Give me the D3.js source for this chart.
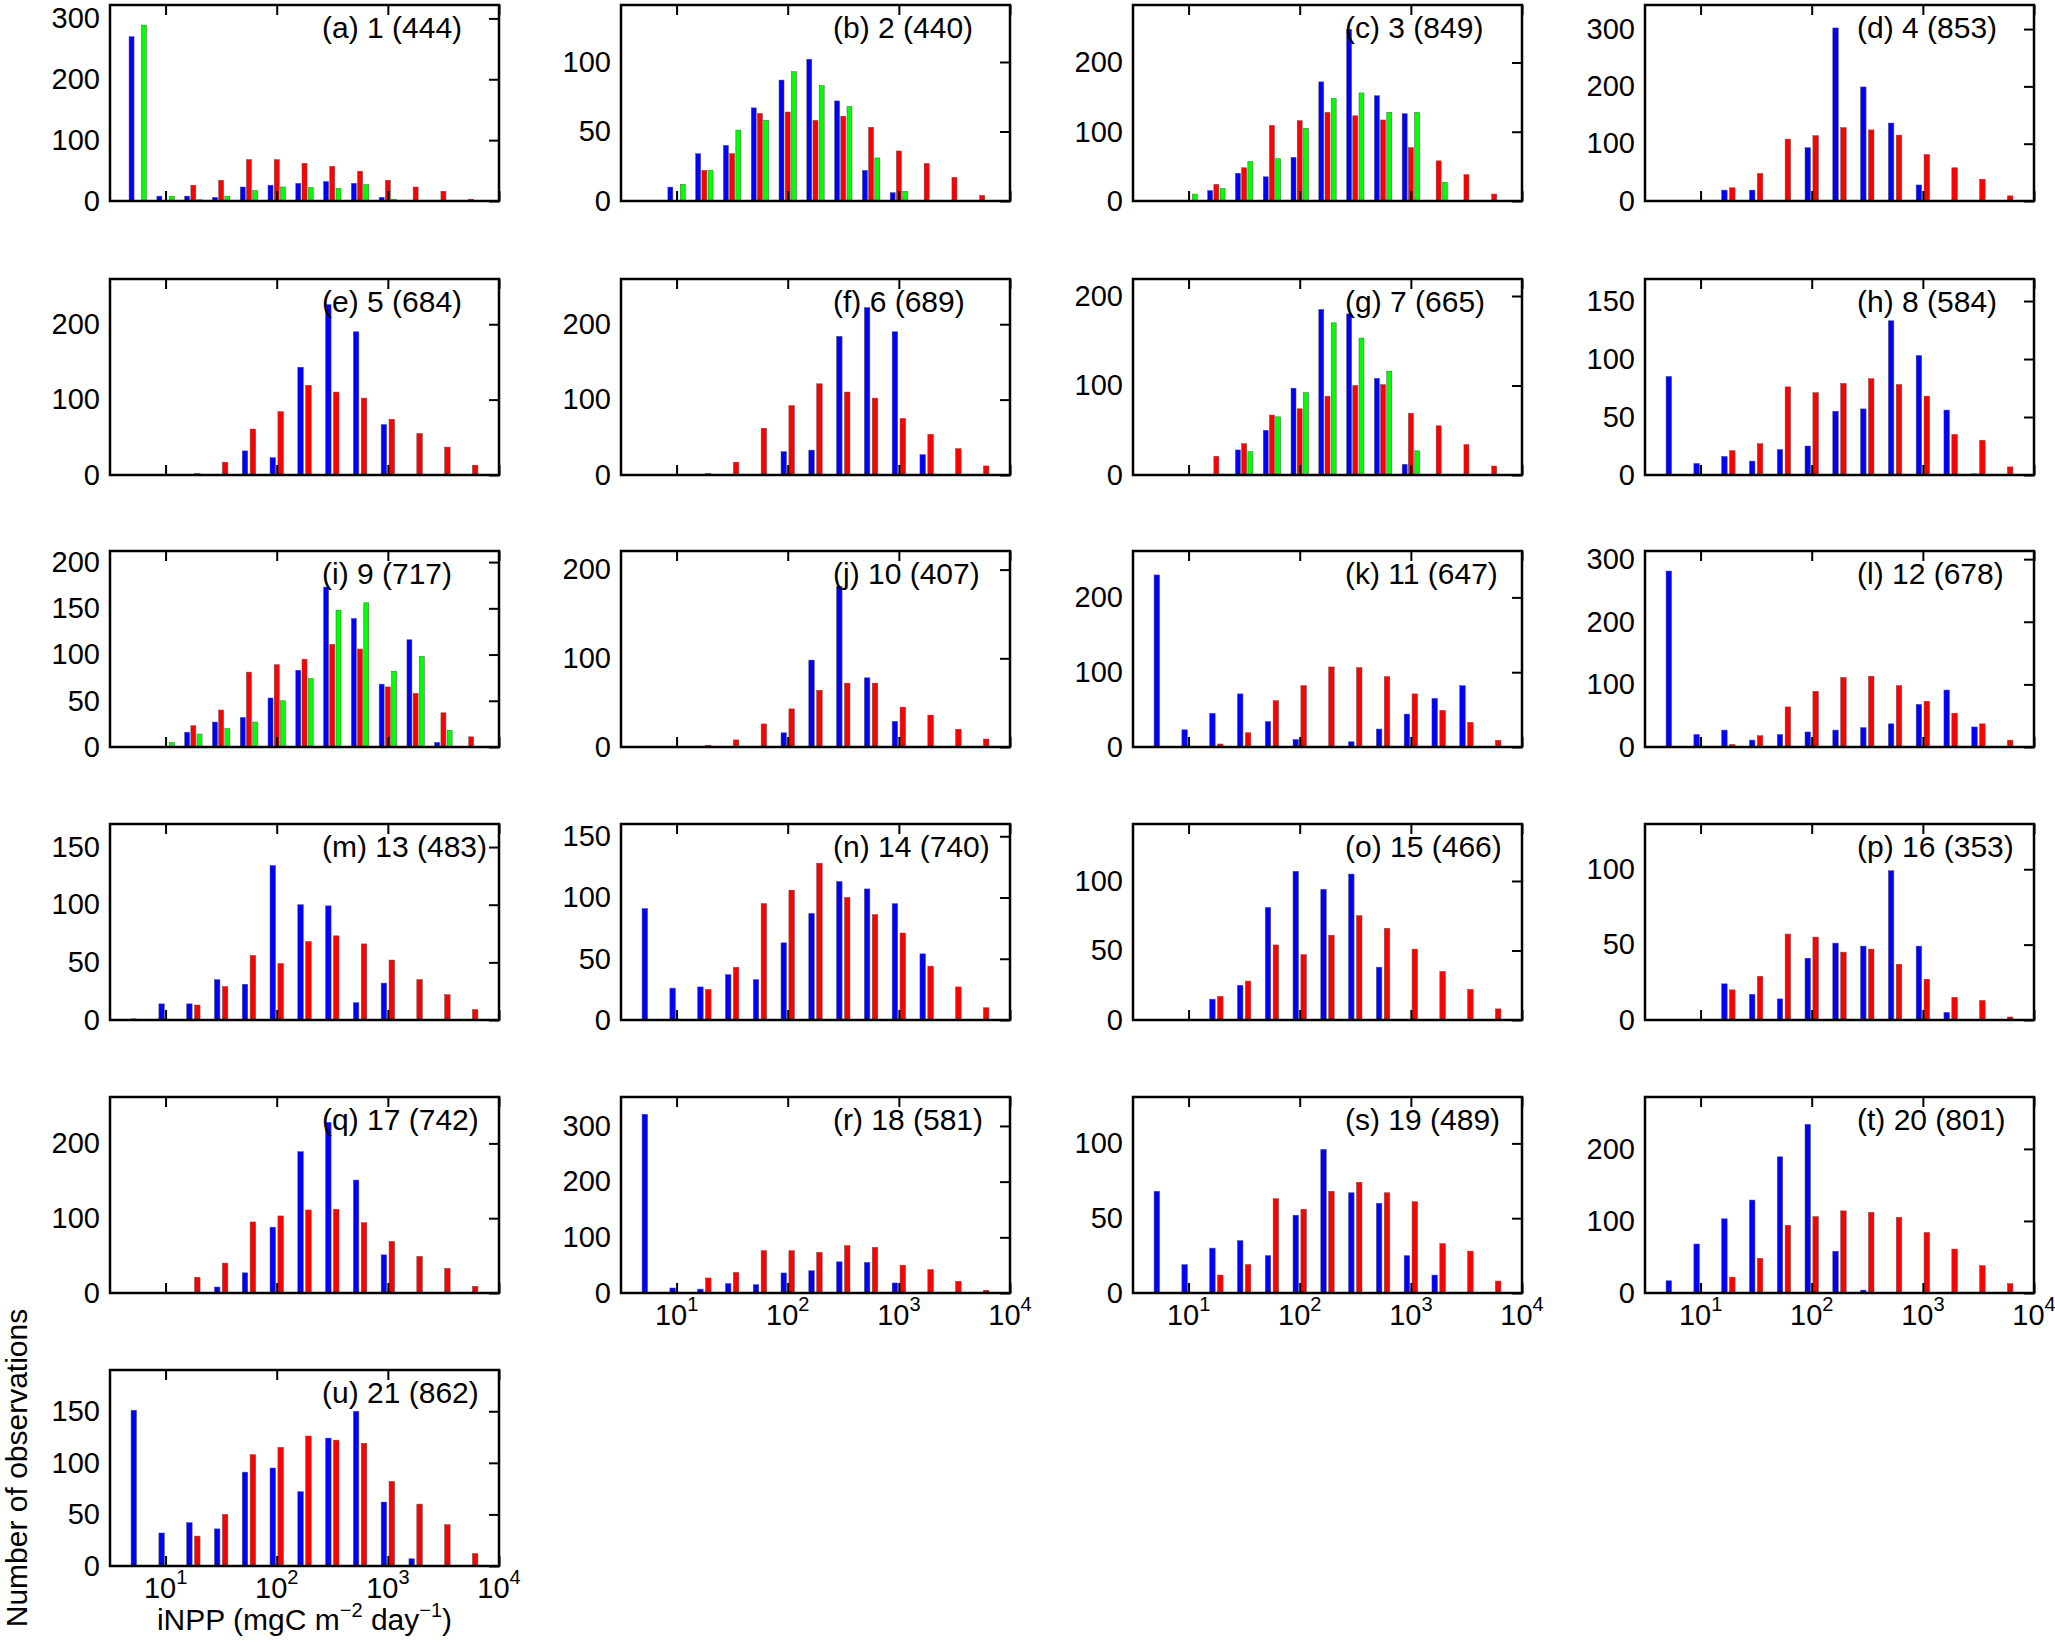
<!DOCTYPE html>
<html><head><meta charset="utf-8">
<script src="https://cdn.jsdelivr.net/npm/d3@7"></script>
<style>
body{margin:0;background:#fff}
svg{display:block}
text{font-family:"Liberation Sans",Arial,Helvetica,sans-serif;fill:#000}
</style>
</head><body>
<svg id="chart" width="2055" height="1642"></svg>
<script>
// ---------------- DATA ----------------
const panelTitles = ["(a) 1 (444)","(b) 2 (440)","(c) 3 (849)","(d) 4 (853)",
  "(e) 5 (684)","(f) 6 (689)","(g) 7 (665)","(h) 8 (584)",
  "(i) 9 (717)","(j) 10 (407)","(k) 11 (647)","(l) 12 (678)",
  "(m) 13 (483)","(n) 14 (740)","(o) 15 (466)","(p) 16 (353)",
  "(q) 17 (742)","(r) 18 (581)","(s) 19 (489)","(t) 20 (801)",
  "(u) 21 (862)"];

// bin centres (mgC m-2 day-1), quarter-decade bins
const binCenters = [5.62, 10, 17.78, 31.62, 56.23, 100, 177.8, 316.2, 562.3, 1000, 1778, 3162, 5623];

const blueCounts = [
  [270,8,8,6,23,26,29,32,29,6,0,0,0],        // a
  [0,10,34,40,67,87,102,72,22,6,0,0,0],      // b
  [0,0,15,40,35,63,172,248,152,126,0,0,0],   // c
  [0,0,19,19,0,93,302,199,136,28,0,0,0],     // d
  [0,0,0,0,32,23,143,226,190,67,0,0,0],      // e
  [0,0,0,0,0,31,33,184,222,190,27,0,0],      // f
  [0,0,0,28,50,97,185,180,108,12,0,0,0],     // g
  [85,10,16,12,22,25,55,57,133,103,56,1,0],  // h
  [0,0,16,27,32,53,83,173,139,68,116,5,0],   // i
  [0,0,0,0,0,16,98,181,78,29,0,0,0],         // j
  [230,23,45,71,34,10,1,7,24,44,65,82,0],    // k
  [281,20,27,11,20,24,27,31,37,68,91,32,0],  // l
  [1,14,14,35,31,134,100,99,15,32,0,0,0],    // m
  [91,26,27,37,33,63,87,113,107,95,54,0,0],  // n
  [0,0,15,25,81,107,94,105,38,0,0,0,0],      // o
  [0,0,24,17,14,41,51,49,99,49,5,0,0],       // p
  [0,0,0,8,27,88,189,228,151,51,0,0,0],      // q
  [321,9,7,17,15,36,40,56,55,18,0,0,0],      // r
  [68,19,30,35,25,52,96,67,60,25,12,0,0],    // s
  [17,68,103,129,189,234,58,4,0,0,0,0,0],    // t
  [151,32,42,36,91,95,72,124,150,62,7,0,0]   // u
];

const redCounts = [
  [0,0,26,34,68,68,62,57,49,34,23,16,3],
  [0,0,22,34,63,64,58,61,53,36,27,17,4],
  [0,0,24,48,109,116,128,123,117,77,58,38,10],
  [0,0,23,48,108,114,128,124,115,81,58,38,9],
  [0,0,2,17,61,84,119,110,102,74,55,37,13],
  [0,0,2,17,62,92,121,110,102,75,54,35,12],
  [0,0,21,35,67,74,88,100,101,69,55,34,10],
  [0,0,21,27,76,71,79,83,78,68,35,30,7],
  [0,0,23,40,81,89,95,111,106,65,58,37,11],
  [0,0,2,8,26,43,64,72,72,45,36,20,9],
  [0,0,4,19,62,82,107,106,94,71,49,33,9],
  [0,0,4,18,64,89,111,113,98,73,54,37,11],
  [0,0,13,29,56,49,68,73,66,52,35,22,9],
  [0,0,25,43,95,106,128,100,86,71,44,27,10],
  [0,0,17,28,54,47,61,75,66,51,35,22,8],
  [0,0,20,29,57,55,45,47,37,27,15,13,2],
  [0,0,21,40,95,103,111,112,94,69,49,33,9],
  [0,0,27,37,76,76,73,85,82,50,42,21,5],
  [0,0,12,19,63,56,68,74,67,61,33,28,8],
  [0,0,22,48,94,106,114,112,105,84,61,38,13],
  [0,0,29,50,108,115,126,122,119,82,60,40,12]
];

const greenCounts = [
  [289,8,2,8,17,23,22,21,27,3,0,0,0],
  [0,12,22,51,58,93,83,68,31,7,0,0,0],
  [0,10,18,57,61,105,148,156,128,128,27,0,0],
  null,null,null,
  [0,0,1,26,65,92,170,153,116,27,0,0,0],
  null,
  [0,5,14,20,27,50,74,148,156,82,98,18,0],
  null,null,null,null,null,null,null,null,null,null,null,null
];

const yMaxima = [322,141,283,342,260,260,219,169,212,221,262,313,170,160,141,130,262,352,131,272,190];
const yTickSteps = [100,50,100,100,100,100,100,50,50,100,100,100,50,50,50,50,100,100,50,100,50];

const xTickValues = [10, 100, 1000, 10000];
const xTickExponents = ["1", "2", "3", "4"];
const xDomain = [Math.pow(10, 0.5), 10000];
const labelledPanels = [17, 18, 19, 20];

// ---------------- LAYOUT ----------------
const colLeft = [110, 621, 1133, 1645];
const rowTop = [5, 279, 551, 824, 1097, 1370];
const PW = 389, PH = 196;
const colors = {blue: "#0000ff", red: "#ff0000", green: "#00ff00"};

const svg = d3.select("#chart");

panelTitles.forEach((title, i) => {
  const col = i % 4, row = Math.floor(i / 4);
  const g = svg.append("g").attr("transform", `translate(${colLeft[col]},${rowTop[row]})`);
  const x = d3.scaleLog().domain(xDomain).range([0, PW]);
  const y = d3.scaleLinear().domain([0, yMaxima[i]]).range([PH, 0]);

  let series, offsets, bw;
  if (greenCounts[i]) {
    series = [[blueCounts[i], colors.blue], [redCounts[i], colors.red], [greenCounts[i], colors.green]];
    offsets = [-6.2, 0, 6.2];
    bw = 5;
  } else {
    series = [[blueCounts[i], colors.blue], [redCounts[i], colors.red]];
    offsets = [-3.95, 3.95];
    bw = 5.5;
  }

  series.forEach(([vals, c], s) => {
    g.append("g").selectAll("rect")
      .data(vals.map((v, k) => ({v, c: binCenters[k]})).filter(d => d.v > 0))
      .join("rect")
      .attr("x", d => x(d.c) + offsets[s] - bw / 2)
      .attr("width", bw)
      .attr("y", d => y(d.v))
      .attr("height", d => y(0) - y(d.v))
      .attr("fill", c)
      .attr("stroke", "#555")
      .attr("stroke-width", 0.5);
  });

  const yTicks = d3.range(0, yMaxima[i] + 0.001, yTickSteps[i]);

  // left labels
  const la = g.append("g").call(d3.axisLeft(y).tickValues(yTicks).tickSize(0).tickPadding(10));
  la.select(".domain").remove();
  la.selectAll("text").attr("font-size", 29).attr("font-family", '"Liberation Sans",Arial,sans-serif');

  // right inward ticks
  const ra = g.append("g").attr("transform", `translate(${PW},0)`)
    .call(d3.axisRight(y).tickValues(yTicks).tickSize(-10).tickFormat(""));
  ra.select(".domain").remove();
  ra.selectAll("line").attr("stroke-width", 2);

  // top & bottom inward ticks
  const ba = g.append("g").attr("transform", `translate(0,${PH})`)
    .call(d3.axisBottom(x).tickValues(xTickValues).tickSize(-10).tickFormat(""));
  ba.select(".domain").remove();
  ba.selectAll("line").attr("stroke-width", 2);
  const ta = g.append("g")
    .call(d3.axisTop(x).tickValues(xTickValues).tickSize(-10).tickFormat(""));
  ta.select(".domain").remove();
  ta.selectAll("line").attr("stroke-width", 2);

  // frame
  g.append("rect").attr("x", 0).attr("y", 0).attr("width", PW).attr("height", PH)
    .attr("fill", "none").attr("stroke", "#000").attr("stroke-width", 2.5);

  // title
  g.append("text").attr("x", 212).attr("y", 33).attr("font-size", 30).text(title);

  // x tick labels
  if (labelledPanels.includes(i)) {
    xTickValues.forEach((v, t) => {
      const tx = g.append("text").attr("x", x(v)).attr("y", PH + 32)
        .attr("text-anchor", "middle").attr("font-size", 29);
      tx.append("tspan").text("10");
      tx.append("tspan").attr("dy", -14).attr("font-size", 20).text(xTickExponents[t]);
    });
  }
});

// axis titles
const xl = svg.append("text").attr("x", colLeft[0] + PW / 2).attr("y", 1630)
  .attr("text-anchor", "middle").attr("font-size", 30);
xl.append("tspan").text("iNPP (mgC m");
xl.append("tspan").attr("dy", -13).attr("font-size", 20).text("\u22122");
xl.append("tspan").attr("dy", 13).text(" day");
xl.append("tspan").attr("dy", -13).attr("font-size", 20).text("\u22121");
xl.append("tspan").attr("dy", 13).text(")");

svg.append("text").attr("transform", `translate(27,${rowTop[5] + PH / 2}) rotate(-90)`)
  .attr("text-anchor", "middle").attr("font-size", 30).text("Number of observations");
</script>
</body></html>
